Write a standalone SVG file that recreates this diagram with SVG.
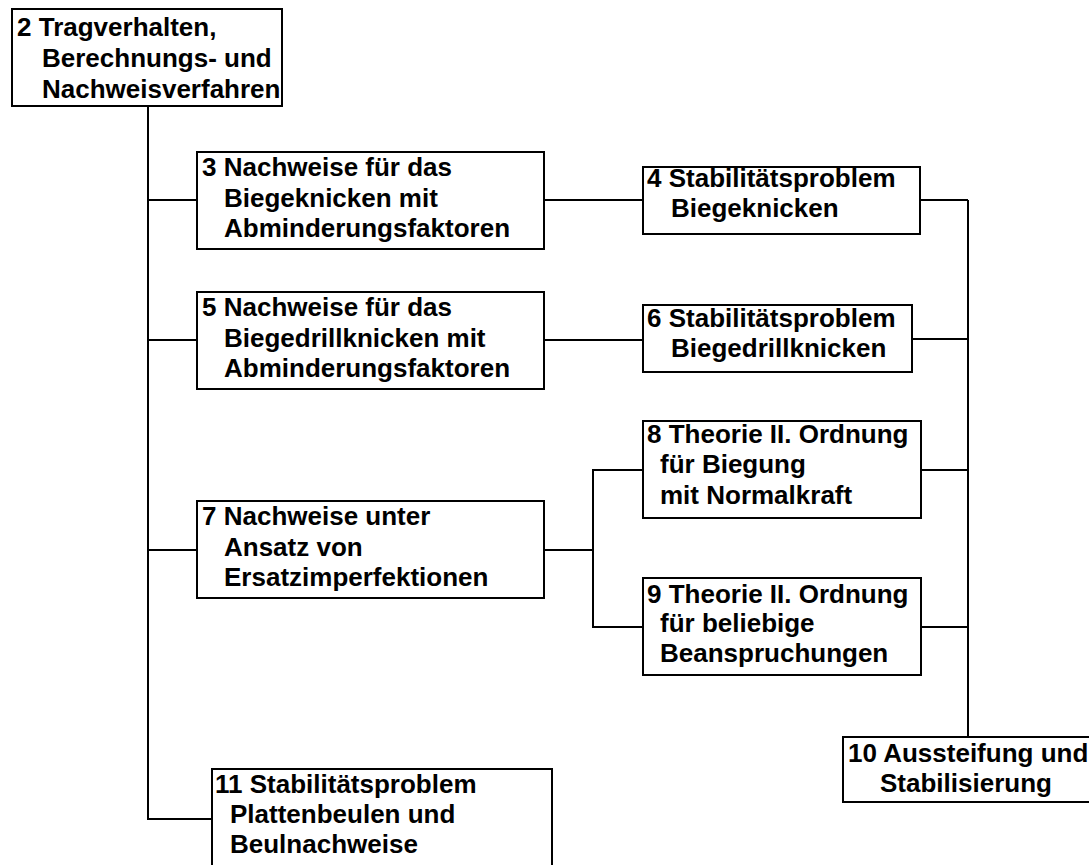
<svg xmlns="http://www.w3.org/2000/svg" width="1089" height="865" viewBox="0 0 1089 865">
<style>
rect{fill:#fff;stroke:#000;stroke-width:2}
.c{fill:none;stroke:#000;stroke-width:2}
text{font-family:"Liberation Sans",Arial,sans-serif;font-weight:bold;font-size:26px;fill:#000}
</style>
<rect x="0" y="0" width="1089" height="865" style="stroke:none"/>
<g id="connectors">
<path class="c" d="M148 107V819H212"/>
<path class="c" d="M148 200H197M148 340H197M148 550H197"/>
<path class="c" d="M544 200H643M544 340H643"/>
<path class="c" d="M544 550H593M643 470H593V627H643"/>
<path class="c" d="M920 200H968M912 339H968M920 470H968M920 627H968M968 200V738"/>
</g>
<g id="n2"><rect x="12" y="9" width="270" height="97"/>
<text x="17" y="36">2 Tragverhalten,</text><text x="42" y="67">Berechnungs- und</text><text x="42" y="98">Nachweisverfahren</text></g>
<g id="n3"><rect x="197" y="152" width="347" height="97"/>
<text x="202" y="176">3 Nachweise für das</text><text x="224" y="207">Biegeknicken mit</text><text x="224" y="237">Abminderungsfaktoren</text></g>
<g id="n4"><rect x="643" y="167" width="277" height="67"/>
<text x="647" y="187">4 Stabilitätsproblem</text><text x="671" y="217">Biegeknicken</text></g>
<g id="n5"><rect x="197" y="292" width="347" height="97"/>
<text x="202" y="316">5 Nachweise für das</text><text x="224" y="347">Biegedrillknicken mit</text><text x="224" y="377">Abminderungsfaktoren</text></g>
<g id="n6"><rect x="643" y="305" width="269" height="67"/>
<text x="647" y="327">6 Stabilitätsproblem</text><text x="671" y="357">Biegedrillknicken</text></g>
<g id="n7"><rect x="197" y="501" width="347" height="97"/>
<text x="202" y="525">7 Nachweise unter</text><text x="224" y="556">Ansatz von</text><text x="224" y="586">Ersatzimperfektionen</text></g>
<g id="n8"><rect x="643" y="421" width="278" height="97"/>
<text x="647" y="443">8 Theorie II. Ordnung</text><text x="660" y="473">für Biegung</text><text x="660" y="504">mit Normalkraft</text></g>
<g id="n9"><rect x="643" y="578" width="278" height="97"/>
<text x="647" y="603">9 Theorie II. Ordnung</text><text x="660" y="632">für beliebige</text><text x="660" y="662">Beanspruchungen</text></g>
<g id="n10"><rect x="843" y="737" width="260" height="65"/>
<text x="848" y="762">10 Aussteifung und</text><text x="880" y="792">Stabilisierung</text></g>
<g id="n11"><rect x="212" y="769" width="340" height="110"/>
<text x="215" y="793">11 Stabilitätsproblem</text><text x="230" y="823">Plattenbeulen und</text><text x="230" y="853">Beulnachweise</text></g>
</svg>
